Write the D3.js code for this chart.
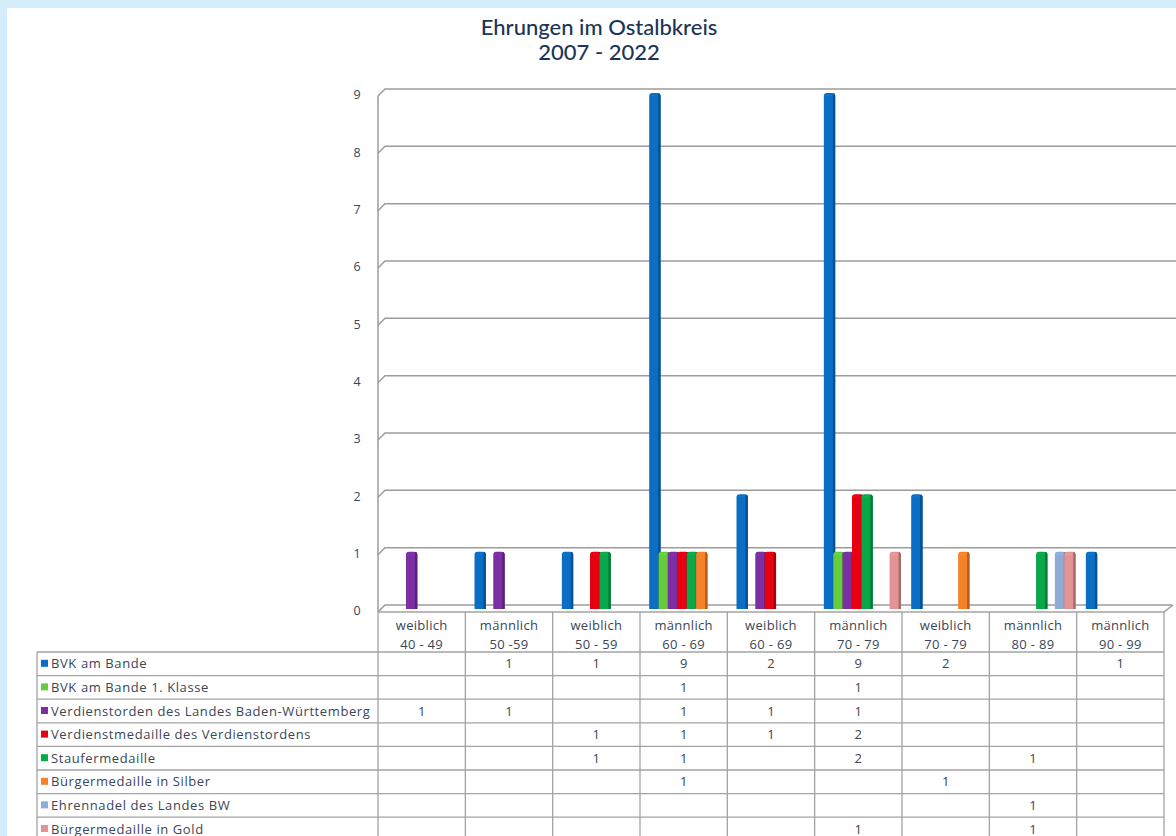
<!DOCTYPE html>
<html><head><meta charset="utf-8">
<script src="https://cdn.jsdelivr.net/npm/d3@7"></script>
<style>
html,body{margin:0;padding:0;background:#d5ecfa;}
svg{display:block;}
</style></head>
<body>
<svg id="chart" width="1176" height="836"></svg>
<script>
// ---- data ----
const title = ["Ehrungen im Ostalbkreis", "2007 - 2022"];
const categoriesTop = ["weiblich","männlich","weiblich","männlich","weiblich","männlich","weiblich","männlich","männlich"];
const categoriesBottom = ["40 - 49","50 -59","50 - 59","60 - 69","60 - 69","70 - 79","70 - 79","80 - 89","90 - 99"];
const seriesNames = [
  "BVK am Bande",
  "BVK am Bande 1. Klasse",
  "Verdienstorden des Landes Baden-Württemberg",
  "Verdienstmedaille des Verdienstordens",
  "Staufermedaille",
  "Bürgermedaille in Silber",
  "Ehrennadel des Landes BW",
  "Bürgermedaille in Gold"
];
const seriesColors = ["#0a6fc4","#66cc3e","#7b2fa3","#e60012","#0aa84a","#f5822a","#8fabd6","#e39394"];
const bvkAmBande        = [null,1,1,9,2,9,2,null,1];
const bvkErsteKlasse    = [null,null,null,1,null,1,null,null,null];
const verdienstorden    = [1,1,null,1,1,1,null,null,null];
const verdienstmedaille = [null,null,1,1,1,2,null,null,null];
const staufermedaille   = [null,null,1,1,null,2,null,1,null];
const buergerSilber     = [null,null,null,1,null,null,1,null,null];
const ehrennadel        = [null,null,null,null,null,null,null,1,null];
const buergerGold       = [null,null,null,null,null,1,null,1,null];
const yTicks = [0,1,2,3,4,5,6,7,8,9];

const seriesValues = [bvkAmBande,bvkErsteKlasse,verdienstorden,verdienstmedaille,staufermedaille,buergerSilber,ehrennadel,buergerGold];
const catIdx = d3.range(categoriesTop.length);

// ---- layout ----
const svg = d3.select("#chart");
const FONT = "'Open Sans', 'DejaVu Sans', sans-serif";
const TXT = "#3a4656";
svg.append("rect").attr("x",7).attr("y",8).attr("width",1169).attr("height",828).attr("fill","#fff");

const tableLeft = 37, colLeft = 378, colRight = 1164;
const headerTop = 612, headerBottom = 652, rowH = 23.6;
const depthX = 7, depthY = 4;

const x0 = d3.scaleBand().domain(catIdx).range([colLeft, colRight]).padding(0);
const bw = x0.bandwidth();
const x1 = d3.scaleBand().domain(d3.range(seriesNames.length)).range([bw*0.105, bw*0.965]).padding(0);
const y = d3.scaleLinear().domain([0,9]).range([609,93]);

// title
const t = svg.append("text").attr("text-anchor","middle").attr("font-family","Lato, 'Open Sans', sans-serif")
  .attr("font-size",22).attr("font-weight",500).attr("fill","#1a3557");
t.append("tspan").attr("x",599).attr("y",35).text(title[0]);
t.append("tspan").attr("x",599).attr("y",60).text(title[1]);

// back wall gridlines
const grid = svg.append("g").attr("fill","none").attr("stroke","#9c9c9c").attr("stroke-width",1.5);
grid.selectAll("path").data(yTicks).join("path")
  .attr("d", v => `M${colLeft},${y(v)+3}L${colLeft+depthX},${y(v)-depthY}H${v===0?colRight:1176}` + (v===0?`L${colRight+8},${y(0)-depthY}`:""));
grid.append("line").attr("x1",colLeft).attr("x2",colLeft).attr("y1",y(9)+3).attr("y2",headerTop);
grid.append("path").attr("d",`M${colRight},${headerTop}L${colRight+9},${y(0)-depthY}`);

// y tick labels
svg.append("g").selectAll("text").data(yTicks).join("text")
  .attr("x",357).attr("y",v=>y(v)+3).attr("text-anchor","middle").attr("dominant-baseline","middle")
  .attr("font-family",FONT).attr("font-size",12.5).attr("fill",TXT).text(v=>v);

// bars
const barW = x1.bandwidth()+2;
const bars = svg.append("g");
seriesValues.forEach((vals, s) => {
  const col = d3.color(seriesColors[s]);
  const g = bars.append("g");
  const data = catIdx.filter(i => vals[i]);
  data.forEach(i => {
    const xl = x0(i) + x1(s), yt = y(vals[i]), yb = y(0), r = 3;
    g.append("path").attr("fill", col.formatHex())
      .attr("d", `M${xl},${yb}V${yt+r}Q${xl},${yt} ${xl+r},${yt}H${xl+barW-r}Q${xl+barW},${yt} ${xl+barW},${yt+r}V${yb}Z`);
    g.append("path").attr("fill", col.darker(0.9).formatHex())
      .attr("d", `M${xl+barW-2.4},${yb}V${yt+2}Q${xl+barW-2.4},${yt} ${xl+barW-1},${yt+0.5}Q${xl+barW},${yt+1.5} ${xl+barW},${yt+r}V${yb}Z`);
    g.append("path").attr("fill", col.brighter(0.4).formatHex()).attr("opacity",0.6)
      .attr("d", `M${xl+1},${yt+2}H${xl+barW-3}V${yt+3}H${xl+1}Z`);
  });
});

// table
const tbl = svg.append("g").attr("stroke","#a3a3a3").attr("stroke-width",1.3);
const nRows = seriesNames.length;
const tableBottom = headerBottom + rowH*nRows;
tbl.append("line").attr("x1",colLeft).attr("x2",colRight).attr("y1",headerTop).attr("y2",headerTop);
d3.range(nRows+1).forEach(r => {
  tbl.append("line").attr("x1",tableLeft).attr("x2",colRight).attr("y1",headerBottom+r*rowH).attr("y2",headerBottom+r*rowH);
});
tbl.append("line").attr("x1",tableLeft).attr("x2",tableLeft).attr("y1",headerBottom).attr("y2",tableBottom);
catIdx.concat([catIdx.length]).forEach(i => {
  const xx = i < catIdx.length ? x0(i) : colRight;
  tbl.append("line").attr("x1",xx).attr("x2",xx).attr("y1",headerTop).attr("y2",tableBottom);
});

// category header labels
const hdr = svg.append("g").attr("font-family",FONT).attr("font-size",13).attr("letter-spacing",0.3)
  .attr("fill",TXT).attr("text-anchor","middle");
catIdx.forEach(i => {
  const cx = x0(i)+bw/2;
  hdr.append("text").attr("x",cx).attr("y",630).text(categoriesTop[i]);
  hdr.append("text").attr("x",cx).attr("y",649).text(categoriesBottom[i]);
});

// row labels with legend keys
const rows = svg.append("g").attr("font-family",FONT).attr("font-size",13).attr("fill",TXT);
seriesNames.forEach((name, s) => {
  const cy = headerBottom + s*rowH + rowH/2;
  rows.append("rect").attr("x",41).attr("y",cy-4).attr("width",7).attr("height",7).attr("fill",seriesColors[s]);
  rows.append("text").attr("x",51).attr("y",cy+4.5).attr("letter-spacing",0.6).text(name);
  catIdx.forEach(i => {
    const v = seriesValues[s][i];
    if (v != null) rows.append("text").attr("x",x0(i)+bw/2).attr("y",cy+4.5).attr("text-anchor","middle").text(v);
  });
});
</script>
</body></html>
